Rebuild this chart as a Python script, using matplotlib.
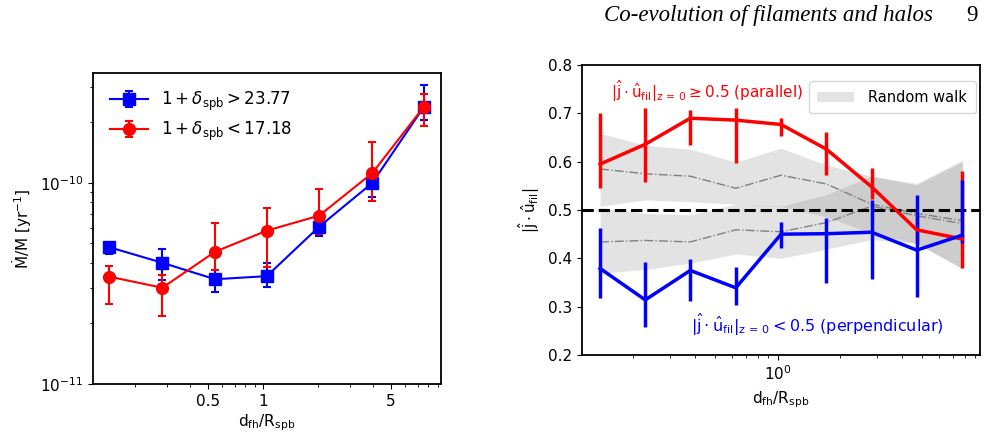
import matplotlib
matplotlib.use("Agg")
import matplotlib.pyplot as plt
import numpy as np
from matplotlib.patches import Patch
from matplotlib.ticker import FixedLocator, FixedFormatter, NullFormatter

plt.rcParams["font.family"] = ["DejaVu Sans"]
plt.rcParams["mathtext.fontset"] = "dejavusans"

# left panel: specific accretion rate vs distance to filament
d_left = [0.145, 0.282, 0.548, 1.05, 2.03, 3.96, 7.6]
acc_high = [4.79e-11, 4.01e-11, 3.32e-11, 3.44e-11, 6.06e-11, 1.00e-10, 2.40e-10]
acc_high_lo = [4.45e-11, 3.29e-11, 2.88e-11, 3.03e-11, 5.47e-11, 8.50e-11, 2.06e-10]
acc_high_hi = [5.05e-11, 4.68e-11, 3.69e-11, 4.01e-11, 6.37e-11, 1.06e-10, 3.07e-10]
acc_low = [3.42e-11, 3.01e-11, 4.55e-11, 5.79e-11, 6.88e-11, 1.12e-10, 2.40e-10]
acc_low_lo = [2.50e-11, 2.17e-11, 3.71e-11, 3.80e-11, 5.60e-11, 8.16e-11, 1.91e-10]
acc_low_hi = [3.88e-11, 3.49e-11, 6.34e-11, 7.53e-11, 9.35e-11, 1.59e-10, 2.77e-10]

# right panel: spin alignment vs distance to filament
d_right = [0.1386, 0.229, 0.378, 0.627, 1.037, 1.717, 2.84, 4.69, 7.79]
par = [0.595, 0.636, 0.690, 0.686, 0.677, 0.626, 0.548, 0.459, 0.440]
par_lo = [0.545, 0.557, 0.635, 0.598, 0.653, 0.572, 0.523, 0.430, 0.379]
par_hi = [0.701, 0.712, 0.708, 0.712, 0.690, 0.661, 0.586, 0.490, 0.581]
perp = [0.379, 0.314, 0.375, 0.339, 0.450, 0.451, 0.454, 0.417, 0.448]
perp_lo = [0.317, 0.257, 0.312, 0.304, 0.421, 0.348, 0.358, 0.321, 0.431]
perp_hi = [0.462, 0.393, 0.398, 0.383, 0.476, 0.483, 0.521, 0.532, 0.562]

rw_par = [0.585, 0.575, 0.570, 0.545, 0.572, 0.554, 0.512, 0.493, 0.478]
rw_par_lo = [0.508, 0.521, 0.517, 0.512, 0.507, 0.486, 0.452, 0.431, 0.379]
rw_par_hi = [0.659, 0.634, 0.626, 0.599, 0.628, 0.593, 0.570, 0.555, 0.603]
rw_perp = [0.434, 0.437, 0.434, 0.459, 0.455, 0.474, 0.508, 0.488, 0.472]
rw_perp_lo = [0.369, 0.377, 0.390, 0.409, 0.400, 0.419, 0.439, 0.431, 0.379]
rw_perp_hi = [0.505, 0.493, 0.490, 0.512, 0.508, 0.532, 0.570, 0.552, 0.600]

fig = plt.figure(figsize=(9.97, 4.36), dpi=100)
ax1 = fig.add_axes([0.0933, 0.1193, 0.349, 0.713])
ax2 = fig.add_axes([0.5835, 0.1858, 0.3995, 0.665])

# ---- left panel
yerr_h = [np.array(acc_high) - np.array(acc_high_lo), np.array(acc_high_hi) - np.array(acc_high)]
yerr_l = [np.array(acc_low) - np.array(acc_low_lo), np.array(acc_low_hi) - np.array(acc_low)]
ax1.errorbar(d_left, acc_high, yerr=yerr_h, color="b", marker="s", ms=8, lw=1.5,
             capsize=3, capthick=1.5, label=r"$1+\delta_{\rm spb} > 23.77$")
ax1.errorbar(d_left, acc_low, yerr=yerr_l, color="r", marker="o", ms=8.5, lw=1.5,
             capsize=3, capthick=1.5, label=r"$1+\delta_{\rm spb} < 17.18$")
ax1.set_xscale("log")
ax1.set_yscale("log")
ax1.set_xlim(0.118, 9.4)
ax1.set_ylim(1e-11, 3.52e-10)
ax1.xaxis.set_major_locator(FixedLocator([0.5, 1, 5]))
ax1.xaxis.set_major_formatter(FixedFormatter(["0.5", "1", "5"]))
ax1.xaxis.set_minor_formatter(NullFormatter())
ax1.tick_params(labelsize=11)
ax1.set_xlabel(r"$\rm d_{fh}/R_{spb}$", fontsize=11, labelpad=3)
ax1.set_ylabel(r"$\dot{\rm M}/{\rm M}\ [{\rm yr}^{-1}]$", fontsize=11)
ax1.legend(loc="upper left", frameon=False, fontsize=12, handlelength=2.3,
           borderaxespad=0.6, labelspacing=0.4)
for s in ax1.spines.values():
    s.set_linewidth(1.3)

# ---- right panel
ax2.fill_between(d_right, rw_par_lo, rw_par_hi, color="gray", alpha=0.22, lw=0)
ax2.fill_between(d_right, rw_perp_lo, rw_perp_hi, color="gray", alpha=0.22, lw=0)
ax2.plot(d_right, rw_par, color="gray", ls="-.", lw=1)
ax2.plot(d_right, rw_perp, color="gray", ls="-.", lw=1)
ax2.axhline(0.5, color="k", ls="--", lw=2.2)
ax2.errorbar(d_right, par, yerr=[np.array(par) - np.array(par_lo), np.array(par_hi) - np.array(par)],
             color="r", lw=2.5, elinewidth=2.5, capsize=0)
ax2.errorbar(d_right, perp, yerr=[np.array(perp) - np.array(perp_lo), np.array(perp_hi) - np.array(perp)],
             color="b", lw=2.5, elinewidth=2.5, capsize=0)
ax2.set_xscale("log")
ax2.set_xlim(0.113, 9.49)
ax2.set_ylim(0.2, 0.8)
ax2.tick_params(labelsize=11)
ax2.set_xlabel(r"$\rm d_{fh}/R_{spb}$", fontsize=11)
ax2.set_ylabel(r"$|\hat{\rm j}\cdot\hat{\rm u}_{\rm fil}|$", fontsize=11)
ax2.text(0.314, 0.91, r"$|\hat{\rm j}\cdot\hat{\rm u}_{\rm fil}|_{\rm z\,=\,0}\geq 0.5$ (parallel)",
         color="r", fontsize=11, transform=ax2.transAxes, ha="center", va="center")
ax2.text(0.592, 0.105, r"$|\hat{\rm j}\cdot\hat{\rm u}_{\rm fil}|_{\rm z\,=\,0} < 0.5$ (perpendicular)",
         color="b", fontsize=11.5, transform=ax2.transAxes, ha="center", va="center")
ax2.legend(handles=[Patch(color="gray", alpha=0.22, lw=0, label="Random walk")],
           loc="upper right", bbox_to_anchor=(0.99, 0.945), borderaxespad=0,
           fontsize=10.5, handlelength=2.5, handletextpad=1.0, fancybox=True,
           borderpad=0.6)
for s in ax2.spines.values():
    s.set_linewidth(1.3)

fig.text(0.606, 0.965, "Co-evolution of filaments and halos", family="Liberation Serif",
         style="italic", fontsize=16.5, va="center")
fig.text(0.969, 0.965, "9", family="Liberation Serif", fontsize=16.5, va="center")

fig.savefig("out.png", dpi=100)
